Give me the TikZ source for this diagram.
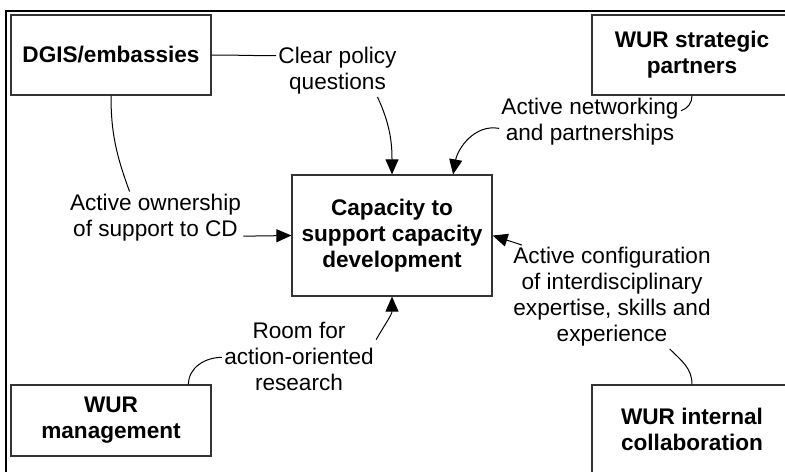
\documentclass[tikz,border=0pt]{standalone}
\usepackage{fontspec}
\setmainfont{Liberation Sans}
\usetikzlibrary{arrows.meta}
\newcommand\diagfont{\fontsize{11.3}{13}\selectfont}
\begin{document}
\begin{tikzpicture}[x=0.5pt, y=0.5pt, >={Triangle[length=7.5pt,width=6.5pt]},
        box/.style={draw=black!80, line width=0.6pt, minimum width=100pt, align=center, inner sep=1pt, font=\diagfont\bfseries},
        note/.style={align=center, inner sep=1pt, font=\diagfont},
        link/.style={line width=0.5pt}]
        \useasboundingbox (0,0) rectangle (785,-471);
        \clip (0,0) rectangle (785,-471);
        % outer frame, cut by the page
        \draw [line width=1.2pt] (6,-480) -- (6,-11) -- (800,-11);
        \node [box, minimum height=40pt] (dgis) at (111,-55) {DGIS/embassies};
        \node [box, minimum height=40pt] (partners) at (692,-55) {WUR strategic\\partners};
        \node [box, minimum height=60.5pt] (central) at (392,-235.5) {Capacity to\\support capacity\\development};
        \node [box, minimum height=35.5pt] (mgmt) at (111,-420.5) {WUR\\management};
        \node [box, minimum height=44pt] (internal) at (692,-429) {WUR internal\\collaboration};
        \node [note] (policy) at (337.5,-71) {Clear policy\\questions};
        \node [note] (networking) at (590,-122) {Active networking\\and partnerships};
        \node [note] (ownership) at (155.5,-217.5) {Active ownership\\of support to CD};
        \node [note] (room) at (299,-356) {Room for\\action-oriented\\research};
        \node [note] (config) at (612,-297) {Active configuration\\of interdisciplinary\\expertise, skills and\\experience};
        \draw [link] (dgis.east) to[out=0,in=180] (policy.166);
        \draw [link,->] (policy.-33) to[out=-65,in=90] (central.north);
        \draw [link] (partners.south) to[out=-90,in=20] (networking.7);
        \draw [link,->] (networking.184) to[out=170,in=80] (central.45);
        \draw [link] (dgis.south) to[out=-90,in=110] (ownership.135);
        \draw [link,->] (ownership.-12) -- (central.west);
        \draw [link] (mgmt.25) to[out=90,in=180] (room.181);
        \draw [link,->] (room.12) to[out=60,in=-90] (central.south);
        \draw [link,->] (config.150) -- (central.east);
        \draw [link] (internal.north) to[out=90,in=-45] (config.-42);
    \end{tikzpicture}
\end{document}
